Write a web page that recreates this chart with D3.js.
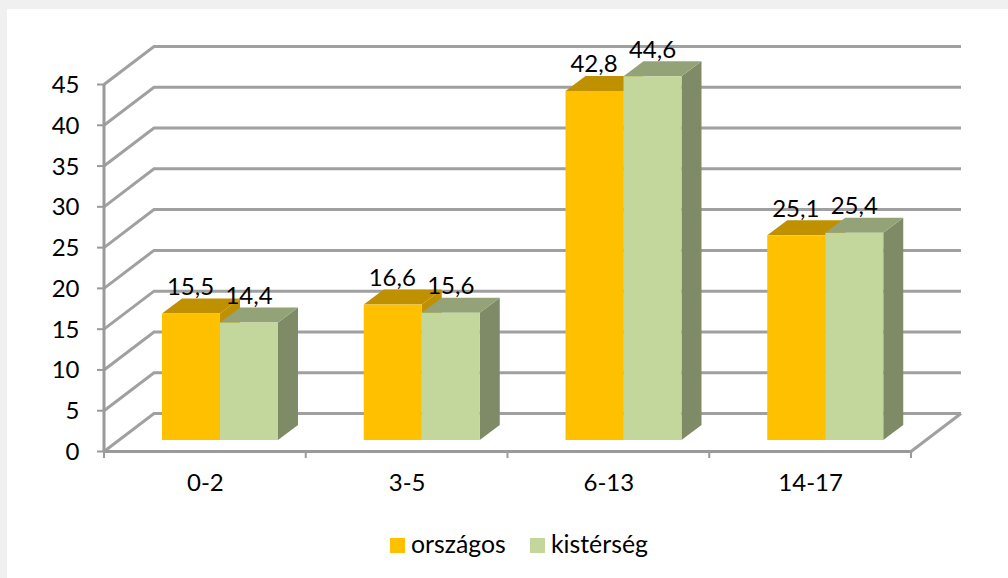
<!DOCTYPE html>
<html><head><meta charset="utf-8">
<script src="https://cdn.jsdelivr.net/npm/d3@7"></script>
<style>html,body{margin:0;padding:0;background:#f0f0f0}svg{display:block}text{font-family:Lato,"Open Sans",sans-serif;fill:#000}</style>
</head><body><div id="c"></div>
<script>
const categories=["0-2","3-5","6-13","14-17"];
const seriesNames=["országos","kistérség"];
const orszagos=[15.5,16.6,42.8,25.1];
const kisterseg=[14.4,15.6,44.6,25.4];
const valueTicks=[0,5,10,15,20,25,30,35,40,45];
const labelsOrszagos=["15,5","16,6","42,8","25,1"];
const labelsKisterseg=["14,4","15,6","44,6","25,4"];

const W=1008,H=578;
const svg=d3.select("#c").append("svg").attr("width",W).attr("height",H);
svg.append("rect").attr("width",W).attr("height",H).attr("fill","#f0f0f0");
svg.append("rect").attr("x",7).attr("y",9).attr("width",W-7).attr("height",H-9).attr("fill","#fff");

const y=d3.scaleLinear().domain([0,45]).range([451.5,84.5]);
const x0=d3.scaleBand().domain(categories).range([104,911]);
const x1=d3.scaleBand().domain(seriesNames).range([58,174]);
const DX=50,DY=-38,bdx=20,bdy=-15,bshift=-11.5;

const grid=svg.append("g").attr("fill","none").attr("stroke","#a0a0a0").attr("stroke-width",3);
valueTicks.forEach(t=>{
  grid.append("path").attr("d",d3.line()([[104,y(t)],[104+DX,y(t)+DY],[911+DX,y(t)+DY]]));
});
grid.append("path").attr("d",d3.line()([[911,y(0)],[911+DX,y(0)+DY]]));
const ax=svg.append("g").attr("stroke","#9a9a9a").attr("fill","none");
ax.append("line").attr("x1",104).attr("x2",104).attr("y1",y(45)).attr("y2",y(0)).attr("stroke-width",3);
ax.append("line").attr("x1",104).attr("x2",911).attr("y1",y(0)).attr("y2",y(0)).attr("stroke-width",3);
valueTicks.forEach(t=>ax.append("line").attr("x1",97).attr("x2",104).attr("y1",y(t)).attr("y2",y(t)).attr("stroke-width",2));
categories.concat([null]).forEach((c,i)=>{
  const px=104+i*x0.bandwidth();
  ax.append("line").attr("x1",px).attr("x2",px).attr("y1",451).attr("y2",458).attr("stroke-width",2);
});

const colors={"országos":["#ffc000","#bf9000","#bf9000"],"kistérség":["#c3d69b","#93a377","#7f8b66"]};
function bar(g,name,cat,v){
  const xl=x0(cat)+x1(name),xr=xl+x1.bandwidth();
  const yb=y(0)+bshift,yt=y(v)+bshift;
  const c=colors[name];
  g.append("path").attr("fill",c[2]).attr("d",d3.line()([[xr,yt],[xr+bdx,yt+bdy],[xr+bdx,yb+bdy],[xr,yb]]));
  g.append("path").attr("fill",c[1]).attr("d",d3.line()([[xl,yt],[xl+bdx,yt+bdy],[xr+bdx,yt+bdy],[xr,yt]]));
  g.append("rect").attr("x",xl).attr("y",yt).attr("width",xr-xl).attr("height",yb-yt).attr("fill",c[0]);
}
const bars=svg.append("g");
categories.forEach((c,i)=>{bar(bars,seriesNames[0],c,orszagos[i]);bar(bars,seriesNames[1],c,kisterseg[i]);});

const t=svg.append("g").attr("font-size",24);
valueTicks.forEach(v=>t.append("text").attr("x",79.5).attr("y",y(v)+8.5).attr("text-anchor","end").text(v));
categories.forEach(c=>t.append("text").attr("x",x0(c)+x0.bandwidth()/2+0.5).attr("y",491).attr("text-anchor","middle").text(c));
categories.forEach((c,i)=>{
  t.append("text").attr("x",x0(c)+x1(seriesNames[0])+x1.bandwidth()/2-0.5).attr("y",y(orszagos[i])-30).attr("text-anchor","middle").text(labelsOrszagos[i]);
  t.append("text").attr("x",x0(c)+x1(seriesNames[1])+x1.bandwidth()/2).attr("y",y(kisterseg[i])-30).attr("text-anchor","middle").text(labelsKisterseg[i]);
});
[[390,seriesNames[0]],[530,seriesNames[1]]].forEach(([lx,n])=>{
  svg.append("rect").attr("x",lx).attr("y",538).attr("width",15).attr("height",15).attr("fill",colors[n][0]);
  t.append("text").attr("x",lx+21).attr("y",553).attr("font-size",24.8).text(n);
});
</script></body></html>
